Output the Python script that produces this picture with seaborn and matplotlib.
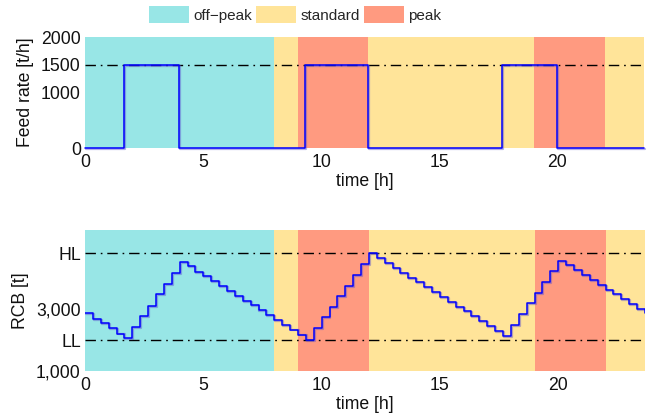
import numpy as np
import pandas as pd
import matplotlib
matplotlib.use("Agg")
import matplotlib.pyplot as plt
import matplotlib.patheffects as pe
from matplotlib.patches import Patch
import seaborn as sns

# 20-minute time grid over one day (hours)
time_h = np.arange(72) / 3.0

# Feed rate into the bunker [t/h]
feed_rate = [0, 0, 0, 0, 0, 1500, 1500, 1500, 1500, 1500, 1500, 1500,
             0, 0, 0, 0, 0, 0, 0, 0, 0, 0, 0, 0, 0, 0, 0, 0,
             1500, 1500, 1500, 1500, 1500, 1500, 1500, 1500,
             0, 0, 0, 0, 0, 0, 0, 0, 0, 0, 0, 0, 0, 0, 0, 0, 0,
             1500, 1500, 1500, 1500, 1500, 1500, 1500,
             0, 0, 0, 0, 0, 0, 0, 0, 0, 0, 0, 0]

# Raw coal bunker level [t]
rcb_level = [2870, 2684, 2544, 2381, 2218, 2065, 2413, 2771, 3117, 3488, 3833, 4192,
             4540, 4410, 4224, 4084, 3921, 3758, 3596, 3443, 3280, 3130, 2967, 2814,
             2651, 2498, 2348, 2185, 2022, 2381, 2739, 3085, 3443, 3758, 4117, 4465,
             4820, 4660, 4508, 4345, 4192, 4029, 3879, 3716, 3553, 3400, 3237, 3085,
             2935, 2771, 2619, 2456, 2303, 2140, 2498, 2857, 3215, 3521, 3879, 4237,
             4583, 4432, 4270, 4117, 3954, 3801, 3638, 3488, 3325, 3162, 3010, 2889]

# Tariff periods
period_start = [0, 8, 9, 12, 19, 22]
period_end = [8, 9, 12, 19, 22, 24]
period_type = ["off\u2212peak", "standard", "peak", "standard", "peak", "standard"]
tariff_names = ["off\u2212peak", "standard", "peak"]
tariff_colors = ["#98E6E6", "#FFE499", "#FF9A80"]

max_feed = 1500
low_limit = 2000
high_limit = 4820

df = pd.DataFrame({"time": time_h, "feed": feed_rate, "rcb": rcb_level})

sns.set_style("white")
plt.rcParams["font.family"] = ["Liberation Sans", "DejaVu Sans"]
plt.rcParams["font.size"] = 12.7

fig = plt.figure(figsize=(6.49, 4.18), dpi=100)
ax1 = fig.add_axes([85 / 649, 1 - 148 / 418, 559 / 649, 111 / 418])
ax2 = fig.add_axes([85 / 649, 1 - 371 / 418, 560 / 649, 141 / 418])

color_of = dict(zip(tariff_names, tariff_colors))
dashdot = (0, (7.5, 3.5, 1.2, 3.5))
shadow = [pe.SimpleLineShadow(offset=(0.7, -0.7), shadow_color="#5a4fd0",
                              alpha=0.45, linewidth=1.6), pe.Normal()]

for ax in (ax1, ax2):
    for s, e, p in zip(period_start, period_end, period_type):
        ax.axvspan(s, e, color=color_of[p], lw=0, zorder=0)

# Feed rate
sns.lineplot(data=df, x="time", y="feed", ax=ax1, drawstyle="steps-post",
             color="#0000ff", lw=1.1, path_effects=shadow, clip_on=False, zorder=3)
ax1.axhline(max_feed, color="black", lw=1.0, ls=dashdot, zorder=2)
ax1.set_ylim(0, 2000)
ax1.set_yticks([0, 1000, 1500, 2000])
ax1.set_yticklabels(["0", "1000", "1500", "2000"])
ax1.set_ylabel("Feed rate [t/h]")
ax1.yaxis.set_label_coords(-0.091, 0.5)

# Bunker level
sns.lineplot(data=df, x="time", y="rcb", ax=ax2, drawstyle="steps-post",
             color="#0000ff", lw=1.1, path_effects=shadow, zorder=3)
ax2.axhline(low_limit, color="black", lw=1.0, ls=dashdot, zorder=2)
ax2.axhline(high_limit, color="black", lw=1.0, ls=dashdot, zorder=2)
ax2.set_ylim(1000, 5580)
ax2.set_yticks([1000, low_limit, 3000, high_limit])
ax2.set_yticklabels(["1,000", "LL", "3,000", "HL"])
ax2.set_ylabel("RCB [t]")
ax2.yaxis.set_label_coords(-0.1, 0.5)

for ax in (ax1, ax2):
    ax.set_xlim(time_h[0], time_h[-1])
    ax.set_xticks([0, 5, 10, 15, 20])
    ax.set_xlabel("time [h]", labelpad=2)
    ax.tick_params(axis="x", length=0, pad=4, labelsize=12.7, colors="#111111")
    ax.tick_params(axis="y", length=0, pad=3, labelsize=12.7, colors="#111111")
    for sp in ax.spines.values():
        sp.set_visible(False)
    ax.yaxis.label.set_color("#111111")
    ax.xaxis.label.set_color("#111111")

handles = [Patch(facecolor=c, edgecolor="none") for c in tariff_colors]
fig.legend(handles, tariff_names, loc="center", bbox_to_anchor=(295 / 649, 1 - 14.5 / 418),
           ncol=3, frameon=False, handlelength=2.6, handleheight=1.31,
           handletextpad=0.29, columnspacing=0.28, fontsize=11, borderaxespad=0)

fig.savefig("out.png", dpi=100)
